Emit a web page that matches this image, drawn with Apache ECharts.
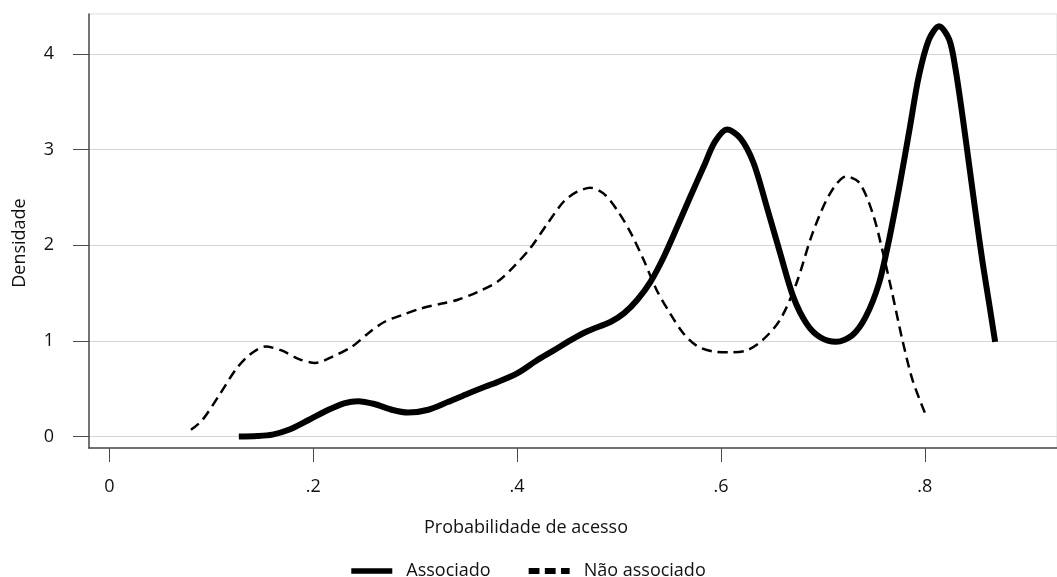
<!DOCTYPE html>
<html>
<head>
<meta charset="utf-8">
<script src="https://cdn.jsdelivr.net/npm/echarts@6/dist/echarts.min.js"></script>
<style>
html,body{margin:0;padding:0;background:#fff;}
#chart{width:1057px;height:577px;}
</style>
</head>
<body>
<div id="chart"></div>
<script>
// Series: Associado (solid)
var assocX = [0.127,0.145,0.160,0.176,0.195,0.215,0.231,0.244,0.260,0.277,0.293,0.313,0.332,0.352,0.366,0.381,0.400,0.420,0.436,0.453,0.469,0.492,0.505,0.518,0.531,0.544,0.557,0.570,0.583,0.594,0.606,0.619,0.632,0.645,0.658,0.671,0.684,0.697,0.713,0.729,0.742,0.755,0.765,0.775,0.785,0.794,0.804,0.814,0.824,0.830,0.837,0.844,0.851,0.857,0.863,0.869];
var assocY = [0.00,0.005,0.02,0.07,0.17,0.28,0.35,0.37,0.34,0.28,0.25,0.28,0.36,0.45,0.51,0.57,0.66,0.80,0.90,1.01,1.10,1.20,1.29,1.43,1.62,1.88,2.19,2.51,2.82,3.08,3.21,3.12,2.86,2.40,1.92,1.46,1.18,1.04,0.99,1.06,1.25,1.60,2.06,2.61,3.21,3.76,4.15,4.29,4.15,3.85,3.35,2.80,2.25,1.80,1.40,0.99];
// Series: Não associado (dashed)
var naoX = [0.080,0.091,0.107,0.124,0.137,0.153,0.169,0.186,0.202,0.218,0.238,0.254,0.270,0.287,0.306,0.326,0.342,0.361,0.381,0.397,0.413,0.430,0.446,0.459,0.472,0.485,0.498,0.511,0.524,0.537,0.550,0.563,0.576,0.592,0.609,0.625,0.641,0.658,0.674,0.690,0.707,0.723,0.736,0.749,0.759,0.768,0.778,0.788,0.800];
var naoY = [0.07,0.17,0.42,0.70,0.85,0.94,0.90,0.81,0.77,0.83,0.94,1.08,1.20,1.27,1.34,1.39,1.43,1.51,1.62,1.78,1.97,2.23,2.46,2.56,2.60,2.54,2.37,2.14,1.85,1.53,1.29,1.08,0.95,0.89,0.88,0.90,1.01,1.22,1.60,2.13,2.54,2.72,2.65,2.33,1.92,1.50,1.01,0.59,0.25];
// Tick values
var xTicks = [0, 0.2, 0.4, 0.6, 0.8];
var yTicks = [0, 1, 2, 3, 4];
var seriesNames = ['Associado', 'Não associado'];
var xTitle = 'Probabilidade de acesso';
var yTitle = 'Densidade';

function zip(a, b) { return a.map(function (v, i) { return [v, b[i]]; }); }
function fmtX(v) {
  if (Math.abs(v) < 1e-9) return '0';
  return String(Math.round(v * 10) / 10).replace(/^0\./, '.');
}

var FONT = 'Open Sans';
var FS = 18;
var chart = echarts.init(document.getElementById('chart'), null, { renderer: 'canvas' });
chart.setOption({
  animation: false,
  backgroundColor: '#fff',
  grid: {
    left: 89, right: -2, top: 14, bottom: 129,
    show: true, borderColor: '#dcdcdc', borderWidth: 1, backgroundColor: 'transparent'
  },
  xAxis: {
    type: 'value', min: -0.02, max: 0.9297,
    name: xTitle, nameLocation: 'middle', nameGap: 71,
    nameTextStyle: { fontFamily: FONT, fontSize: FS, color: '#111', padding: [0, 94, 0, 0] },
    axisLine: { show: true, onZero: false, lineStyle: { color: '#4a4a4a', width: 1.5 } },
    axisTick: { show: true, length: 14, customValues: xTicks, lineStyle: { color: '#4a4a4a', width: 1 } },
    axisLabel: { customValues: xTicks, formatter: fmtX, margin: 30, fontFamily: FONT, fontSize: FS, color: '#111' },
    splitLine: { show: false }
  },
  yAxis: {
    type: 'value', min: -0.12, max: 4.418,
    name: yTitle, nameLocation: 'middle', nameGap: 60, nameRotate: 90,
    nameTextStyle: { fontFamily: FONT, fontSize: FS, color: '#111', padding: [0, 24, 0, 0] },
    axisLine: { show: true, onZero: false, lineStyle: { color: '#4a4a4a', width: 1.5 } },
    axisTick: { show: true, length: 16, customValues: yTicks, lineStyle: { color: '#4a4a4a', width: 1 } },
    axisLabel: { customValues: yTicks, margin: 35, fontFamily: FONT, fontSize: FS, color: '#111' },
    splitLine: { show: true, lineStyle: { color: '#d4d4d4', width: 1 } }
  },
  legend: {
    top: 557, left: 'center', itemGap: 38, itemWidth: 41, itemHeight: 12,
    textStyle: { fontFamily: FONT, fontSize: FS, color: '#111', padding: [0, 0, 0, 9] },
    data: [
      { name: seriesNames[0], icon: 'path://M0,0 L41,0 L41,5.5 L0,5.5 Z', itemStyle: { color: '#000' } },
      { name: seriesNames[1], icon: 'path://M0,0 L10,0 L10,5.5 L0,5.5 Z M15,0 L25,0 L25,5.5 L15,5.5 Z M30,0 L38,0 L38,5.5 L30,5.5 Z', itemStyle: { color: '#000' } }
    ]
  },
  series: [
    {
      name: seriesNames[0], type: 'line', data: zip(assocX, assocY),
      showSymbol: false, symbol: 'none', smooth: 0.3,
      lineStyle: { color: '#000', width: 6, cap: 'butt', join: 'round' },
      itemStyle: { color: '#000' }
    },
    {
      name: seriesNames[1], type: 'line', data: zip(naoX, naoY),
      showSymbol: false, symbol: 'none', smooth: 0.3,
      lineStyle: { color: '#000', width: 2.5, type: [10, 6] },
      itemStyle: { color: '#000' }
    }
  ]
});
</script>
</body>
</html>
